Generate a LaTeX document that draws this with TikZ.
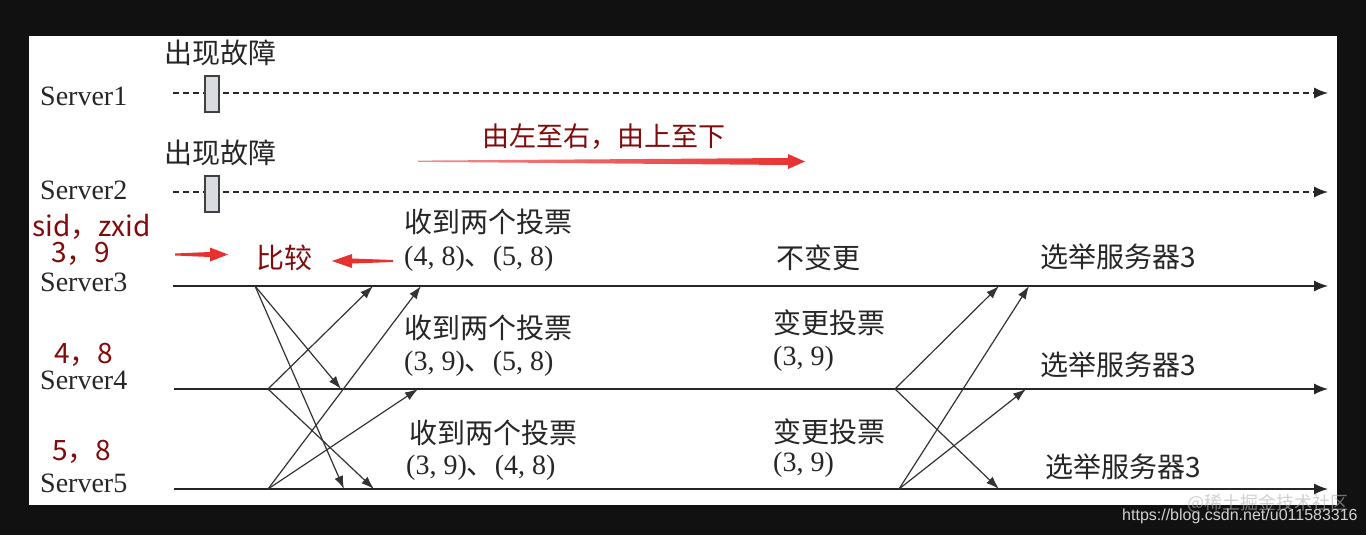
\documentclass[tikz,border=0pt]{standalone}
\usepackage{fontspec}
\setmainfont{Liberation Serif}
\newfontfamily\cjk{Noto Sans CJK SC}
\newfontfamily\wmsans{Liberation Sans}
\usetikzlibrary{arrows.meta}
\definecolor{bgblack}{HTML}{111111}
\definecolor{txtgray}{HTML}{262626}
\definecolor{darkred}{HTML}{820A0A}
\definecolor{brightred}{HTML}{E8302F}
\definecolor{boxfill}{HTML}{D9DBE1}
\begin{document}
\begin{tikzpicture}[x=1pt,y=-1pt,
  srvlabel/.style={font=\fontsize{28}{30}\selectfont, text=txtgray, inner sep=0pt, anchor=west},
  cjklabel/.style={font=\cjk\fontsize{28}{30}\selectfont, text=txtgray, inner sep=0pt, anchor=west},
  numlabel/.style={font=\fontsize{28}{30}\selectfont, text=txtgray, inner sep=0pt, anchor=west},
  redlabel/.style={font=\cjk\fontsize{28}{30}\selectfont, text=darkred, inner sep=0pt, anchor=west},
  timeline/.style={line width=1.4pt, draw=black!85, -{Latex[length=14pt,width=11pt]}},
  dashline/.style={timeline, dash pattern=on 6pt off 4pt},
  vote/.style={line width=1.2pt, draw=black!80, -{Latex[length=13pt,width=9pt]}},
  failbox/.style={draw=black!75, fill=boxfill, line width=1.2pt, minimum width=14pt, minimum height=36pt, inner sep=0pt}
]
\useasboundingbox (0,0) rectangle (1366,535);
\fill[bgblack] (0,0) rectangle (1366,535);
\fill[white] (29,36) rectangle (1337,505);

% timeline coordinates
\coordinate (l1s) at (173,93);  \coordinate (l1e) at (1328,93);
\coordinate (l2s) at (173,192); \coordinate (l2e) at (1328,192);
\coordinate (l3s) at (173,286); \coordinate (l3e) at (1328,286);
\coordinate (l4s) at (174,389); \coordinate (l4e) at (1328,389);
\coordinate (l5s) at (174,489); \coordinate (l5e) at (1328,489);

\draw[dashline] (l1s) -- (l1e);
\draw[dashline] (l2s) -- (l2e);
\draw[timeline] (l3s) -- (l3e);
\draw[timeline] (l4s) -- (l4e);
\draw[timeline] (l5s) -- (l5e);

\node[failbox] (f1) at (212,94) {};
\node[failbox] (f2) at (212,194) {};

% server labels
\node[srvlabel] (s1) at (40,96) {Server1};
\node[srvlabel] (s2) at (40,190) {Server2};
\node[srvlabel] (s3) at (40,282) {Server3};
\node[srvlabel] (s4) at (40,380) {Server4};
\node[srvlabel] (s5) at (40,483) {Server5};

\node[cjklabel] (fail1) at (164,53) {出现故障};
\node[cjklabel] (fail2) at (164,153) {出现故障};

% red annotations
\node[redlabel] (sidz) at (32,227) {sid，zxid};
\node[redlabel] (v3) at (51,254) {3，9};
\node[redlabel] (v4) at (54,355) {4，8};
\node[redlabel] (v5) at (52,452) {5，8};
\node[redlabel] (cmp) at (256,258) {比较};
\node[redlabel, font=\cjk\fontsize{27}{29}\selectfont] (order) at (482,137) {由左至右，由上至下};

% red arrows
\shade[left color=brightred!55, right color=brightred]
  (418,160.6) -- (788,158) -- (788,154) -- (805,161.5) -- (788,169) -- (788,165) -- (418,161.8) -- cycle;
\fill[brightred] (175,253.5) -- (210,252) -- (210,247.5) -- (228,254.5) -- (210,261.5) -- (210,257) -- (175,255.5) -- cycle;
\fill[brightred] (393,260) -- (352,258.5) -- (352,254) -- (332,261) -- (352,268) -- (352,263.5) -- (393,262) -- cycle;

% first round of votes
\coordinate (a3) at (255,286);
\coordinate (a4) at (268,389);
\coordinate (a5) at (268,489);
\coordinate (r34) at (341,389);
\coordinate (r35) at (344,489);
\coordinate (r43) at (373,286);
\coordinate (r45) at (374,489);
\coordinate (r53) at (421,286);
\coordinate (r54) at (418,389);
\draw[vote] (a3) -- (r34);
\draw[vote] (a3) -- (r35);
\draw[vote] (a4) -- (r43);
\draw[vote] (a4) -- (r45);
\draw[vote] (a5) -- (r53);
\draw[vote] (a5) -- (r54);

% second round of votes
\coordinate (b4) at (895,389);
\coordinate (b5) at (899,489);
\coordinate (q43) at (999,286);
\coordinate (q45) at (999,489);
\coordinate (q53) at (1029,286);
\coordinate (q54) at (1026,389);
\draw[vote] (b4) -- (q43);
\draw[vote] (b4) -- (q45);
\draw[vote] (b5) -- (q53);
\draw[vote] (b5) -- (q54);

% received votes
\node[cjklabel] (rc3) at (404,222) {收到两个投票};
\node[numlabel] (rv3) at (404,259) {(4, 8){\cjk 、}(5, 8)};
\node[cjklabel] (rc4) at (404,328) {收到两个投票};
\node[numlabel] (rv4) at (404,364) {(3, 9){\cjk 、}(5, 8)};
\node[cjklabel] (rc5) at (409,433) {收到两个投票};
\node[numlabel] (rv5) at (406,468) {(3, 9){\cjk 、}(4, 8)};

% decisions
\node[cjklabel] (nc3) at (776,258) {不变更};
\node[cjklabel] (ch4) at (773,323) {变更投票};
\node[numlabel] (cv4) at (773,359) {(3, 9)};
\node[cjklabel] (ch5) at (773,432) {变更投票};
\node[numlabel] (cv5) at (773,465) {(3, 9)};

\node[cjklabel] (el3) at (1040,257) {选举服务器3};
\node[cjklabel] (el4) at (1040,365) {选举服务器3};
\node[cjklabel] (el5) at (1045,467) {选举服务器3};

% watermarks
\node[font=\cjk\fontsize{18}{20}\selectfont, text=gray!60, opacity=0.6, inner sep=0pt, anchor=west] (wm1) at (1187,503) {@稀土掘金技术社区};
\node[font=\wmsans\fontsize{16}{18}\selectfont, text=black!18, inner sep=0pt, anchor=west] (wm2) at (1122,516) {https://blog.csdn.net/u011583316};
\end{tikzpicture}
\end{document}
